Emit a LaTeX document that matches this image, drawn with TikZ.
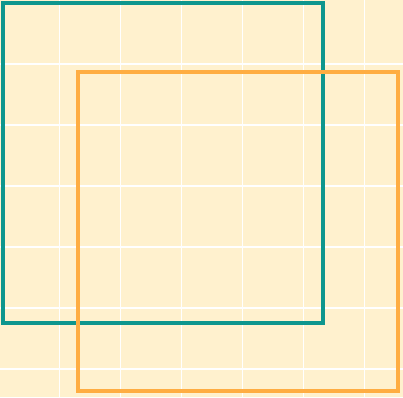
\documentclass[tikz,border=0pt]{standalone}
\usepackage{tikz}
\usepackage{xcolor}
\definecolor{paper}{RGB}{255,241,206}
\definecolor{tealsq}{RGB}{14,150,142}
\definecolor{orangesq}{RGB}{255,173,66}
\tikzset{
	gridline/.style={white, line width=1.5pt},
	square/.style={line width=4pt}
}
\begin{document}
\begin{tikzpicture}[x=1pt,y=-1pt]
	\useasboundingbox (0,0) rectangle (403,397);
	\fill[paper] (0,0) rectangle (403,397);
	\foreach \k in {1,...,6}
	{
		\draw[gridline] (-1.3+61*\k,0) -- (-1.3+61*\k,397);
		\draw[gridline] (0,3+61*\k) -- (403,3+61*\k);
	}
	\draw[square, tealsq] (2.5,2.5) rectangle (322.7,323);
	\draw[square, orangesq] (77.5,71.5) rectangle (397.7,390.7);
\end{tikzpicture}
\end{document}
